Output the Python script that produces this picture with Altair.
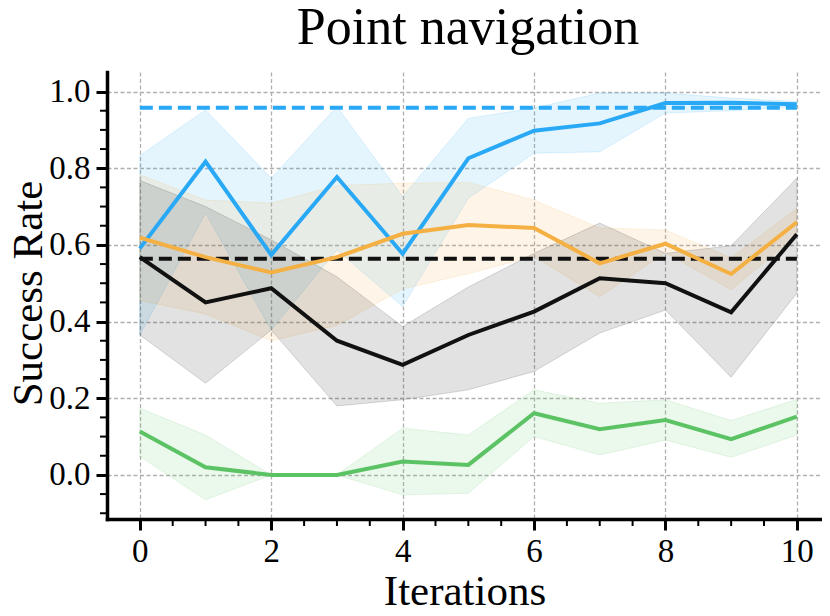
import altair as alt
import pandas as pd

# ---------------- data ----------------
title_text = ["Point navigation"]
iterations = list(range(11))
series_names = ["Method A", "Method B", "Method C", "Method D"]
series_colors = ["#29A9F5", "#F4B042", "#111111", "#5CC364"]

blue_mean = [0.591, 0.817, 0.574, 0.777, 0.577, 0.826, 0.898, 0.917, 0.970, 0.971, 0.967]
blue_upper = [0.833, 0.952, 0.774, 0.961, 0.726, 0.930, 0.957, 0.996, 0.996, 0.983, 0.974]
blue_lower = [0.365, 0.683, 0.378, 0.587, 0.439, 0.722, 0.839, 0.843, 0.944, 0.950, 0.961]

orange_mean = [0.619, 0.568, 0.528, 0.568, 0.629, 0.652, 0.644, 0.552, 0.603, 0.524, 0.659]
orange_upper = [0.783, 0.717, 0.709, 0.755, 0.761, 0.763, 0.717, 0.644, 0.639, 0.566, 0.695]
orange_lower = [0.455, 0.420, 0.350, 0.390, 0.485, 0.525, 0.570, 0.465, 0.580, 0.483, 0.625]

black_mean = [0.568, 0.450, 0.487, 0.350, 0.287, 0.365, 0.426, 0.513, 0.500, 0.424, 0.628]
black_upper = [0.768, 0.700, 0.613, 0.517, 0.387, 0.490, 0.578, 0.657, 0.578, 0.598, 0.774]
black_lower = [0.365, 0.239, 0.378, 0.180, 0.196, 0.222, 0.270, 0.370, 0.430, 0.255, 0.474]

green_mean = [0.113, 0.020, 0.000, 0.000, 0.035, 0.026, 0.161, 0.119, 0.143, 0.093, 0.152]
green_upper = [0.174, 0.104, 0.000, 0.000, 0.122, 0.104, 0.222, 0.187, 0.196, 0.142, 0.197]
green_lower = [0.048, -0.065, 0.000, 0.000, -0.052, -0.048, 0.100, 0.052, 0.091, 0.046, 0.104]

# dashed reference levels
baseline_series = ["Method A", "Method C"]
baseline_values = [0.958, 0.564]
baseline_start = [0, 0]
baseline_end = [10, 10]

x_major = [0, 2, 4, 6, 8, 10]
x_minor = [0.5, 1, 1.5, 2.5, 3, 3.5, 4.5, 5, 5.5, 6.5, 7, 7.5, 8.5, 9, 9.5]
y_major = [0.0, 0.2, 0.4, 0.6, 0.8, 1.0]
y_minor = [-0.1, -0.05, 0.05, 0.1, 0.15, 0.25, 0.3, 0.35, 0.45, 0.5, 0.55,
           0.65, 0.7, 0.75, 0.85, 0.9, 0.95]

# ---------------- tables ----------------
rows = []
for name, m, lo, up in [
    ("Method A", blue_mean, blue_lower, blue_upper),
    ("Method B", orange_mean, orange_lower, orange_upper),
    ("Method C", black_mean, black_lower, black_upper),
    ("Method D", green_mean, green_lower, green_upper),
]:
    for i, it in enumerate(iterations):
        rows.append({"iteration": it, "series": name, "mean": m[i], "lower": lo[i], "upper": up[i]})
df = pd.DataFrame(rows)

df_base = pd.DataFrame({
    "series": baseline_series,
    "value": baseline_values,
    "start": baseline_start,
    "end": baseline_end,
})
df_xminor = pd.DataFrame({"tick": x_minor})
df_yminor = pd.DataFrame({"tick": y_minor})
df_title = pd.DataFrame({"text": title_text})

# ---------------- styling ----------------
FONT = "Liberation Serif"
W, H = 715, 447
xs = alt.Scale(domain=[-0.5, 10.383], nice=False, zero=False)
ys = alt.Scale(domain=[-0.115, 1.051], nice=False, zero=False)
cscale = alt.Scale(domain=series_names, range=series_colors)

x_axis = alt.Axis(values=x_major, format="d", title="Iterations")
y_axis = alt.Axis(values=y_major, format=".1f", title="Success Rate")

bands = alt.Chart(df).mark_area(fillOpacity=0.12, strokeOpacity=0.15, strokeWidth=1).encode(
    x=alt.X("iteration:Q", scale=xs, axis=x_axis),
    y=alt.Y("lower:Q", scale=ys, axis=y_axis, stack=None),
    y2="upper:Q",
    color=alt.Color("series:N", scale=cscale, legend=None),
    stroke=alt.Stroke("series:N", scale=cscale, legend=None),
)

rules = alt.Chart(df_base).mark_rule(strokeDash=[13, 6], strokeWidth=4).encode(
    x=alt.X("start:Q", scale=xs, axis=x_axis),
    x2="end:Q",
    y=alt.Y("value:Q", scale=ys, axis=y_axis),
    color=alt.Color("series:N", scale=cscale, legend=None),
)

lines = alt.Chart(df).mark_line(strokeWidth=4).encode(
    x=alt.X("iteration:Q", scale=xs, axis=x_axis),
    y=alt.Y("mean:Q", scale=ys, axis=y_axis, stack=None),
    color=alt.Color("series:N", scale=cscale, legend=None),
)

# minor ticks drawn just outside the axes (positions come from the shared scales)
xminor = alt.Chart(df_xminor).mark_rule(color="black", strokeWidth=2).encode(
    x=alt.X("tick:Q", scale=xs, axis=x_axis),
    y=alt.value(H),
    y2=alt.value(H + 7),
)
yminor = alt.Chart(df_yminor).mark_rule(color="black", strokeWidth=2).encode(
    y=alt.Y("tick:Q", scale=ys, axis=y_axis),
    x=alt.value(0),
    x2=alt.value(-7),
)

# chart title, centred over the full-width plot area of the reference
title = alt.Chart(df_title).mark_text(
    font=FONT, fontSize=52, color="black", align="center", baseline="alphabetic"
).encode(
    x=alt.value(361),
    y=alt.value(-28),
    text="text:N",
)

chart = alt.layer(bands, rules, lines, xminor, yminor, title).properties(
    width=W,
    height=H,
    autosize="none",
    background="white",
    padding={"left": 99, "top": 64, "right": 0, "bottom": 89},
).configure_view(
    strokeWidth=0
).configure_axis(
    labelFont=FONT, labelFontSize=33, labelColor="black",
    tickSize=11, tickWidth=3, tickColor="black",
    domainColor="black", domainWidth=3.5, domainCap="square",
    grid=True, gridColor="#b0b0b0", gridDash=[4, 2.5], gridWidth=1.3,
    titleFont=FONT, titleFontSize=43, titleFontWeight="normal", titleColor="black",
).configure_axisX(
    labelPadding=5, titleBaseline="alphabetic", titleY=85,
).configure_axisY(
    labelPadding=6, titleAngle=-90, titleBaseline="alphabetic", titleAlign="center",
    titleX=-66, titleY=221,
)

chart.save("out.html", embed_options={"renderer": "svg", "actions": False})
